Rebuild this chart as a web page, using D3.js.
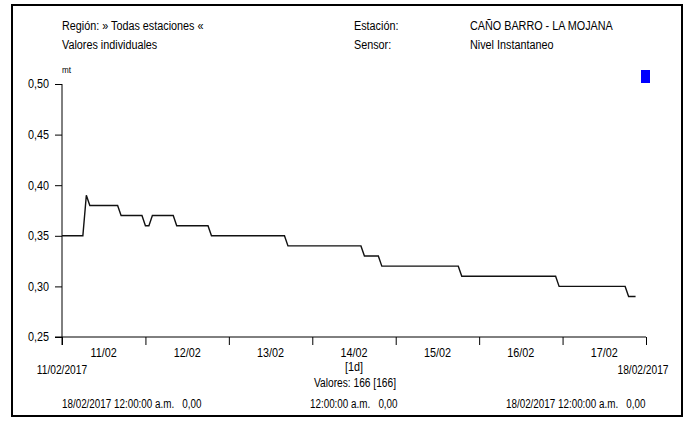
<!DOCTYPE html>
<html><head><meta charset="utf-8">
<script src="https://cdn.jsdelivr.net/npm/d3@7"></script>
<style>
body{margin:0;background:#fff;}
svg text{font-family:"Liberation Sans",Arial,sans-serif;fill:#000;}
</style></head><body>
<svg id="c" width="689" height="422"></svg>
<script>
// Data (hour offset from 11/02/2017 00:00, level in mt) - vertices of the step line
const hours  = [0,6,7,8,16,17,23,24,25,26,32,33,42,43,64,65,86,87,91,92,114,115,142,143,162,163,165];
const values = [0.35,0.35,0.39,0.38,0.38,0.37,0.37,0.36,0.36,0.37,0.37,0.36,0.36,0.35,0.35,0.34,0.34,0.33,0.33,0.32,0.32,0.31,0.31,0.30,0.30,0.29,0.29];
const yTicks = [0.25,0.30,0.35,0.40,0.45,0.50];
const dayLabels = ["11/02","12/02","13/02","14/02","15/02","16/02","17/02"];
const startDate = new Date(2017,1,11,0,0,0);
const endDate = new Date(2017,1,18,0,0,0);

const svg = d3.select("#c");
svg.append("rect").attr("x",12).attr("y",5).attr("width",670).attr("height",411)
  .attr("fill","none").attr("stroke","#000").attr("stroke-width",2);

const x = d3.scaleTime().domain([startDate,endDate]).range([62,646]);
const y = d3.scaleLinear().domain([0.25,0.50]).range([337,84]);

const fmt = d => d.toFixed(2).replace(".",",");
function squeeze(sel, f){
  f = f || 0.9;
  sel.each(function(){
    const l = this.getComputedTextLength();
    if (l>0) d3.select(this).attr("textLength", l*f).attr("lengthAdjust","spacingAndGlyphs");
  });
}

// header
const hdr = [
  ["Región: » Todas estaciones «",62,30],
  ["Valores individuales",62,49],
  ["Estación:",354,30],
  ["Sensor:",354,49],
  ["CAÑO BARRO - LA MOJANA",470,30],
  ["Nivel Instantaneo",470,49]
];
svg.selectAll("text.h").data(hdr).enter().append("text").attr("class","h")
  .attr("x",d=>d[1]).attr("y",d=>d[2]).attr("font-size",12).text(d=>d[0]).call(squeeze);
svg.append("text").attr("x",62).attr("y",73).attr("font-size",9).text("mt").call(squeeze);

// legend square
svg.append("rect").attr("x",641).attr("y",70).attr("width",9).attr("height",13).attr("fill","#0000ff");

// y axis
const yAxis = d3.axisLeft(y).tickValues(yTicks).tickSize(7).tickFormat(fmt);
const gy = svg.append("g").attr("transform","translate(62,0)").call(yAxis);
gy.select(".domain").remove();
gy.selectAll("text").attr("font-size",12).attr("x",-13).attr("font-family",null).call(squeeze);
svg.append("line").attr("x1",62).attr("x2",62).attr("y1",84).attr("y2",345).attr("stroke","#000");

// x axis
const dayTicks = d3.timeDay.range(startDate, d3.timeDay.offset(endDate,1));
const xAxis = d3.axisBottom(x).tickValues(dayTicks).tickSize(8).tickFormat("");
const gx = svg.append("g").attr("transform","translate(0,337)").call(xAxis);
gx.select(".domain").remove();
svg.append("line").attr("x1",55).attr("x2",646).attr("y1",337).attr("y2",337).attr("stroke","#000");
svg.selectAll("text.xl").data(dayLabels).enter().append("text").attr("class","xl")
  .attr("x",(d,i)=>x(d3.timeHour.offset(d3.timeDay.offset(startDate,i),12)))
  .attr("y",357).attr("text-anchor","middle").attr("font-size",12).text(d=>d).call(squeeze);

// line
const line = d3.line().x((d,i)=>x(d3.timeHour.offset(startDate,hours[i]))).y(d=>y(d));
svg.append("path").datum(values).attr("d",line).attr("fill","none").attr("stroke","#111").attr("stroke-width",1.4);

// footer
const ftr = [
  ["11/02/2017",62,374,"middle",12,0.85],
  ["18/02/2017",643,374,"middle",12,0.85],
  ["[1d]",354,371,"middle",12,0.9],
  ["Valores: 166 [166]",355,387,"middle",12,0.85],
  ["18/02/2017 12:00:00 a.m.\u00a0\u00a0 0,00",62,408,"start",12,0.82],
  ["12:00:00 a.m.\u00a0\u00a0 0,00",310,408,"start",12,0.82],
  ["18/02/2017 12:00:00 a.m.\u00a0\u00a0 0,00",506,408,"start",12,0.82]
];
svg.selectAll("text.f").data(ftr).enter().append("text").attr("class","f")
  .attr("x",d=>d[1]).attr("y",d=>d[2]).attr("text-anchor",d=>d[3]).attr("font-size",d=>d[4])
  .text(d=>d[0]).each(function(d){ squeeze(d3.select(this), d[5]); });
</script></body></html>
